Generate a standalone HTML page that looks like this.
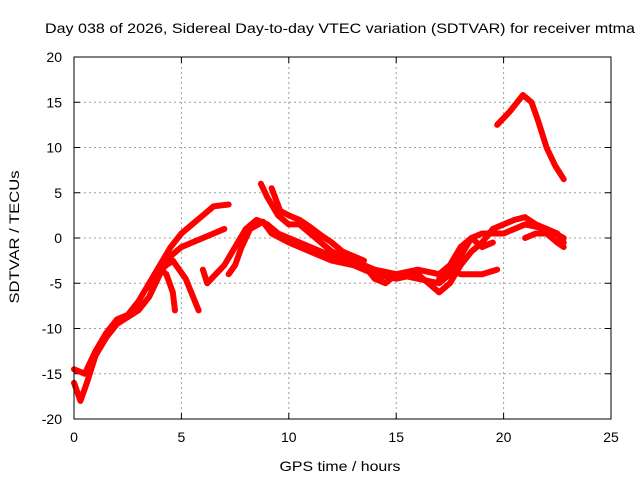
<!DOCTYPE html>
<html><head><meta charset="utf-8"><style>
body{margin:0;background:#fff}
svg{display:block;font-family:"Liberation Sans",sans-serif}
</style></head><body>
<svg id="chart" width="640" height="480" xmlns="http://www.w3.org/2000/svg">
<rect width="640" height="480" fill="#fff"/>
<text x="340" y="33" text-anchor="middle" font-size="14" textLength="590" lengthAdjust="spacingAndGlyphs">Day 038 of 2026, Sidereal Day-to-day VTEC variation (SDTVAR) for receiver mtma</text>
<text x="340" y="471" text-anchor="middle" font-size="14" textLength="121" lengthAdjust="spacingAndGlyphs">GPS time / hours</text>
<text transform="translate(19,237) rotate(-90)" text-anchor="middle" font-size="14" textLength="133" lengthAdjust="spacingAndGlyphs">SDTVAR / TECUs</text>
<g id="grid"></g><g id="ticks"></g><g id="series"></g>
<rect x="74" y="57" width="537" height="362" fill="none" stroke="#000" stroke-width="1"/>
</svg>
<script>
const xTicks=[0,5,10,15,20,25];
const yTicks=[-20,-15,-10,-5,0,5,10,15,20];
const s1=[[0,-14.5],[0.5,-15],[1,-12.5],[1.5,-10.5],[2,-9],[2.5,-8.5],[3,-7],[3.5,-5],[4,-3],[4.5,-1],[5,0.5],[5.5,1.5],[6,2.5],[6.5,3.5],[7.2,3.7]];
const s2=[[0,-16],[0.3,-18],[0.6,-16],[1,-13],[1.5,-11],[2,-9.5],[3,-8],[3.5,-6.5],[4,-4],[4.5,-2],[5,-1],[5.5,-0.5],[6,0],[6.5,0.5],[7,1]];
const s3=[[3.5,-5.5],[4,-3.5],[4.3,-4],[4.6,-6],[4.7,-8]];
const s4=[[4,-3.5],[4.6,-2.5],[5.2,-4.5],[5.8,-8]];
const s5=[[6,-3.5],[6.2,-5],[6.6,-4],[7,-3],[7.5,-1],[8,1],[8.5,2],[9,1.5],[9.5,0.5],[10,0],[10.5,-0.5],[11,-1],[12,-2],[13,-2.5],[14,-3.5],[15,-4],[16,-4.5],[17,-5],[17.5,-4],[18,-2],[18.5,0],[19,0.5],[20,0.5],[21,1.5],[22,1],[22.8,0]];
const s6=[[7.2,-4],[7.5,-3],[7.8,-1],[8.2,1],[8.8,1.8],[9.2,0.5],[10,-0.5],[11,-1.5],[12,-2.5],[13,-3],[14,-4],[15,-4.5],[16,-4],[16.5,-5],[17,-6],[17.5,-5],[18,-3],[18.5,-1.5],[19,-0.5],[19.5,1],[20.5,2],[21,2.3],[21.5,1.5],[22,1],[22.5,0.5],[22.8,-0.5]];
const s7=[[8.7,6],[9,4.5],[9.5,2.5],[10,1.5],[10.5,1.5],[11,0.5],[11.5,-0.5],[12,-1.5],[12.5,-2],[13,-2.5],[13.5,-3],[14,-4.5],[14.5,-5],[15,-4],[16,-3.5],[17,-4],[17.5,-3],[18,-1],[18.5,0],[19,-1],[19.5,-0.5]];
const s8=[[9.2,5.5],[9.6,3],[10,2.5],[10.5,2],[11,1.2],[11.5,0.3],[12,-0.5],[12.5,-1.5],[13,-2],[13.5,-2.5]];
const s9=[[17,-4.5],[17.5,-3.5],[18,-4],[19,-4],[19.7,-3.5]];
const s10=[[19.7,12.5],[20.3,14],[20.9,15.8],[21.3,15],[21.6,13],[22,10],[22.4,8],[22.8,6.5]];
const s11=[[21,0],[21.5,0.5],[22,0.5],[22.5,-0.5],[22.8,-1]];
const allSeries=[s1,s2,s3,s4,s5,s6,s7,s8,s9,s10,s11];
const NS="http://www.w3.org/2000/svg";
function X(t){return 74+(t-0)/25*537;}
function Y(v){return 419-(v+20)/40*362;}
const grid=document.getElementById('grid'),ticks=document.getElementById('ticks'),ser=document.getElementById('series');
function mk(tag,at,parent){const e=document.createElementNS(NS,tag);for(const k in at)e.setAttribute(k,at[k]);parent.appendChild(e);return e;}
xTicks.forEach(t=>{
  const x=X(t);
  if(t>0&&t<25){const g=mk('line',{x1:x,y1:57,x2:x,y2:419,stroke:'#a0a0a0','stroke-dasharray':'2,3'},grid);
  
  }
  const l=mk('text',{x:x,y:442,'text-anchor':'middle','font-size':14},ticks);l.textContent=t;
  
  
  mk('line',{x1:x,y1:419,x2:x,y2:413,stroke:'#000'},ticks);mk('line',{x1:x,y1:57,x2:x,y2:63,stroke:'#000'},ticks);
});
yTicks.forEach(v=>{
  const y=Y(v);
  if(v>-20&&v<20){const g=mk('line',{x1:74,y1:y,x2:611,y2:y,stroke:'#a0a0a0','stroke-dasharray':'2,3'},grid);
  
  }
  const l=mk('text',{x:62,y:y+5,'text-anchor':'end','font-size':14},ticks);l.textContent=v;
  
  
  mk('line',{x1:74,y1:y,x2:80,y2:y,stroke:'#000'},ticks);mk('line',{x1:611,y1:y,x2:605,y2:y,stroke:'#000'},ticks);
});
allSeries.forEach((s,i)=>{
  const p=mk('polyline',{points:s.map(d=>X(d[0])+','+Y(d[1])).join(' '),fill:'none',stroke:'#ff0000','stroke-width':6,'stroke-linejoin':'round','stroke-linecap':'round'},ser);
  
  
});
</script>
</body></html>
